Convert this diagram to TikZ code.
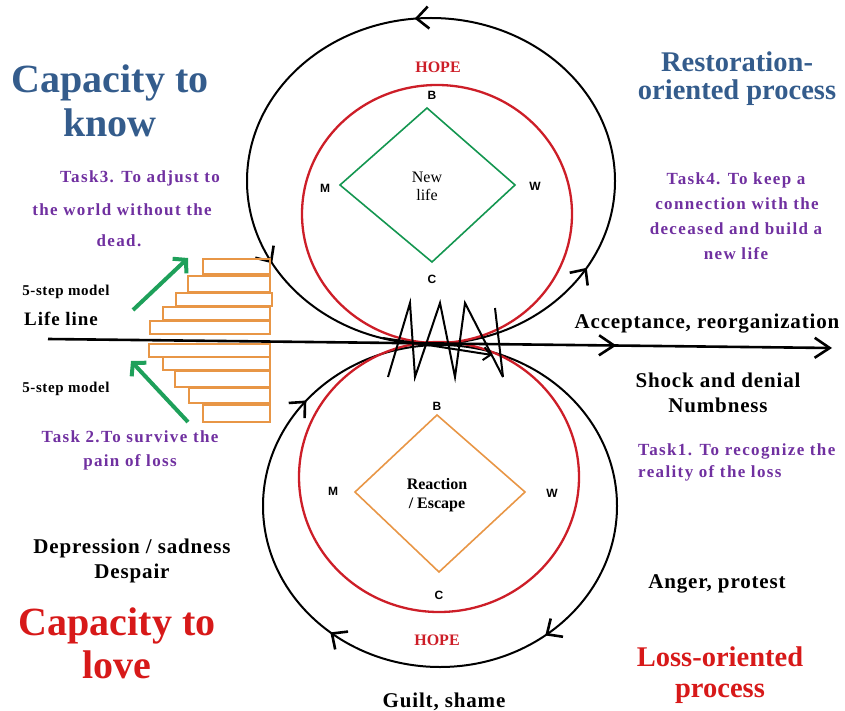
\documentclass[tikz,border=0pt]{standalone}
\usepackage{fontspec}
\setmainfont{Liberation Serif}
\newfontfamily\sansf{Liberation Sans}
\usetikzlibrary{arrows.meta,decorations.markings}
\definecolor{kblue}{RGB}{52,92,140}
\definecolor{kpurple}{RGB}{112,48,160}
\definecolor{kred}{RGB}{215,25,25}
\definecolor{hred}{RGB}{205,30,40}
\definecolor{kgreen}{RGB}{30,160,90}
\definecolor{dgreen}{RGB}{20,150,80}
\definecolor{korange}{RGB}{232,150,70}
\tikzset{
  bl/.style={anchor=base, inner sep=0pt},
  big/.style={bl, font=\bfseries\fontsize{40}{44}\selectfont},
  mid/.style={bl, font=\bfseries\fontsize{28.5}{32}\selectfont},
  lab/.style={bl, font=\bfseries\fontsize{21}{24}\selectfont\addfontfeatures{LetterSpace=4}},
  task/.style={bl, font=\bfseries\fontsize{17}{20}\selectfont\addfontfeatures{LetterSpace=8}, text=kpurple},
  small/.style={bl, font=\bfseries\fontsize{15}{17}\selectfont\addfontfeatures{LetterSpace=4}},
  vx/.style={bl, font=\sansf\bfseries\fontsize{12}{14}\selectfont},
  hope/.style={bl, font=\bfseries\fontsize{16}{18}\selectfont, text=hred},
  loopline/.style={line width=2pt},
  ring/.style={draw=hred, line width=2.3pt},
  stepbox/.style={draw=korange, line width=1.6pt},
}
\begin{document}
\begin{tikzpicture}[x=1pt,y=-1pt]
\useasboundingbox (0,0) rectangle (845,711);
% outer loops
\draw[loopline, postaction={decorate}, decoration={markings,
  mark=at position 0.265 with {\arrow[line width=2.6pt]{Straight Barb[length=12pt,width=22pt]}},
  mark=at position 0.58 with {\arrow[line width=2.6pt]{Straight Barb[length=12pt,width=22pt]}},
  mark=at position 0.915 with {\arrow[line width=2.6pt]{Straight Barb[length=12pt,width=22pt]}}}]
  (431,181) ellipse [x radius=184pt, y radius=163pt];
\draw[loopline, postaction={decorate}, decoration={markings,
  mark=at position 0.39 with {\arrowreversed[line width=2.6pt]{Straight Barb[length=12pt,width=22pt]}},
  mark=at position 0.64 with {\arrowreversed[line width=2.6pt]{Straight Barb[length=12pt,width=22pt]}},
  mark=at position 0.855 with {\arrowreversed[line width=2.6pt]{Straight Barb[length=12pt,width=22pt]}}}]
  (440,506) ellipse [x radius=177pt, y radius=161pt];
% red rings
\draw[ring] (437,214) ellipse [x radius=135pt, y radius=129pt];
\draw[ring] (439,477) ellipse [x radius=140pt, y radius=135pt];
% diamonds
\coordinate (B1) at (427,108); \coordinate (M1) at (340,185);
\coordinate (W1) at (515,185); \coordinate (C1) at (432,262);
\draw[dgreen, line width=1.6pt] (B1) -- (W1) -- (C1) -- (M1) -- cycle;
\coordinate (B2) at (437,415); \coordinate (M2) at (355,492);
\coordinate (W2) at (525,492); \coordinate (C2) at (439,572);
\draw[korange, line width=1.6pt] (B2) -- (W2) -- (C2) -- (M2) -- cycle;
\node[vx] (lb1) at (432,100) {B};
\node[vx] (lm1) at (325,193) {M};
\node[vx] (lw1) at (535,191) {W};
\node[vx] (lc1) at (432,283) {C};
\node[vx] (lb2) at (437,410) {B};
\node[vx] (lm2) at (333,495) {M};
\node[vx] (lw2) at (552,497) {W};
\node[vx] (lc2) at (439,599) {C};
\node[font=\fontsize{16}{18}\selectfont, align=center, inner sep=0pt] (newlife) at (427,186) {New\\life};
\node[font=\bfseries\fontsize{16}{19}\selectfont, align=center, inner sep=0pt] (react) at (437,495) {Reaction\\/ Escape};
\node[hope] (hope1) at (438,73) {HOPE};
\node[hope] (hope2) at (437,645) {HOPE};
% step boxes
\draw[stepbox] (203,259) rectangle (270,274);
\draw[stepbox] (188,276) rectangle (270,292);
\draw[stepbox] (176,293) rectangle (272,306);
\draw[stepbox] (163,307) rectangle (270,320);
\draw[stepbox] (150,321) rectangle (270,334);
\draw[stepbox] (149,344) rectangle (270,357);
\draw[stepbox] (163,357) rectangle (270,370);
\draw[stepbox] (175,371) rectangle (270,387);
\draw[stepbox] (189,388) rectangle (270,403);
\draw[stepbox] (203,405) rectangle (270,422);
% life line
\coordinate (ls) at (48,339);
\coordinate (le) at (832,348);
\draw[line width=2.6pt, -{Straight Barb[length=15pt,width=20pt]}, postaction={decorate},
  decoration={markings, mark=at position 0.725 with {\arrow[line width=2.6pt]{Straight Barb[length=15pt,width=20pt]}}}] (ls) -- (le);
\coordinate (s1) at (383,338); \coordinate (s2) at (492,355);
\draw[line width=2pt, -{Straight Barb[length=7pt,width=13pt]}] (s1) -- (s2);
% zigzag
\draw[line width=2pt, line join=miter] (388,377) -- (410,303) -- (415,377) -- (440,303) -- (455,377) -- (465,303) -- (503,377);
\coordinate (z1) at (495,308); \coordinate (z2) at (503,377);
\draw[line width=2pt] (z1) -- (z2);
% green arrows
\coordinate (g1a) at (133,310); \coordinate (g1b) at (188,258);
\coordinate (g2a) at (188,422); \coordinate (g2b) at (131,361);
\draw[kgreen, line width=4pt, -{Straight Barb[length=9pt,width=20pt]}] (g1a) -- (g1b);
\draw[kgreen, line width=4pt, -{Straight Barb[length=9pt,width=20pt]}] (g2a) -- (g2b);
% texts
\node[big, text=kblue] (ck1) at (110,93) {Capacity to};
\node[big, text=kblue] (ck2) at (110,137) {know};
\node[task] (t3a) at (140,183) {Task3. To adjust to};
\node[task] (t3b) at (122,215) {the world without the};
\node[task] (t3c) at (119,247) {dead.};
\node[small] (sm1) at (66,295) {5-step model};
\node[bl, font=\bfseries\fontsize{19}{21}\selectfont\addfontfeatures{LetterSpace=5}] (ll) at (61,325) {Life line};
\node[small] (sm2) at (66,392) {5-step model};
\node[task] (t2a) at (130,442) {Task 2.To survive the};
\node[task] (t2b) at (130,466) {pain of loss};
\node[mid, text=kblue] (ro1) at (737,72) {Restoration-};
\node[mid, text=kblue] (ro2) at (737,100) {oriented process};
\node[task] (t4a) at (736,185) {Task4. To keep a};
\node[task] (t4b) at (737,210) {connection with the};
\node[task] (t4c) at (736,234) {deceased and build a};
\node[task] (t4d) at (736,259) {new life};
\node[lab] (acc) at (707,328) {Acceptance, reorganization};
\node[lab] (shock1) at (718,387) {Shock and denial};
\node[lab] (shock2) at (718,412) {Numbness};
\node[task, anchor=base west] (t1a) at (638,455) {Task1. To recognize the};
\node[task, anchor=base west] (t1b) at (638,477) {reality of the loss};
\node[lab] (dep1) at (132,553) {Depression / sadness};
\node[lab] (dep2) at (132,578) {Despair};
\node[big, text=kred] (cl1) at (117,635) {Capacity to};
\node[big, text=kred] (cl2) at (117,678) {love};
\node[lab] (anger) at (717,588) {Anger, protest};
\node[mid, text=kred] (lo1) at (720,666) {Loss-oriented};
\node[mid, text=kred] (lo2) at (720,697) {process};
\node[lab] (guilt) at (444,707) {Guilt, shame};
\end{tikzpicture}
\end{document}
